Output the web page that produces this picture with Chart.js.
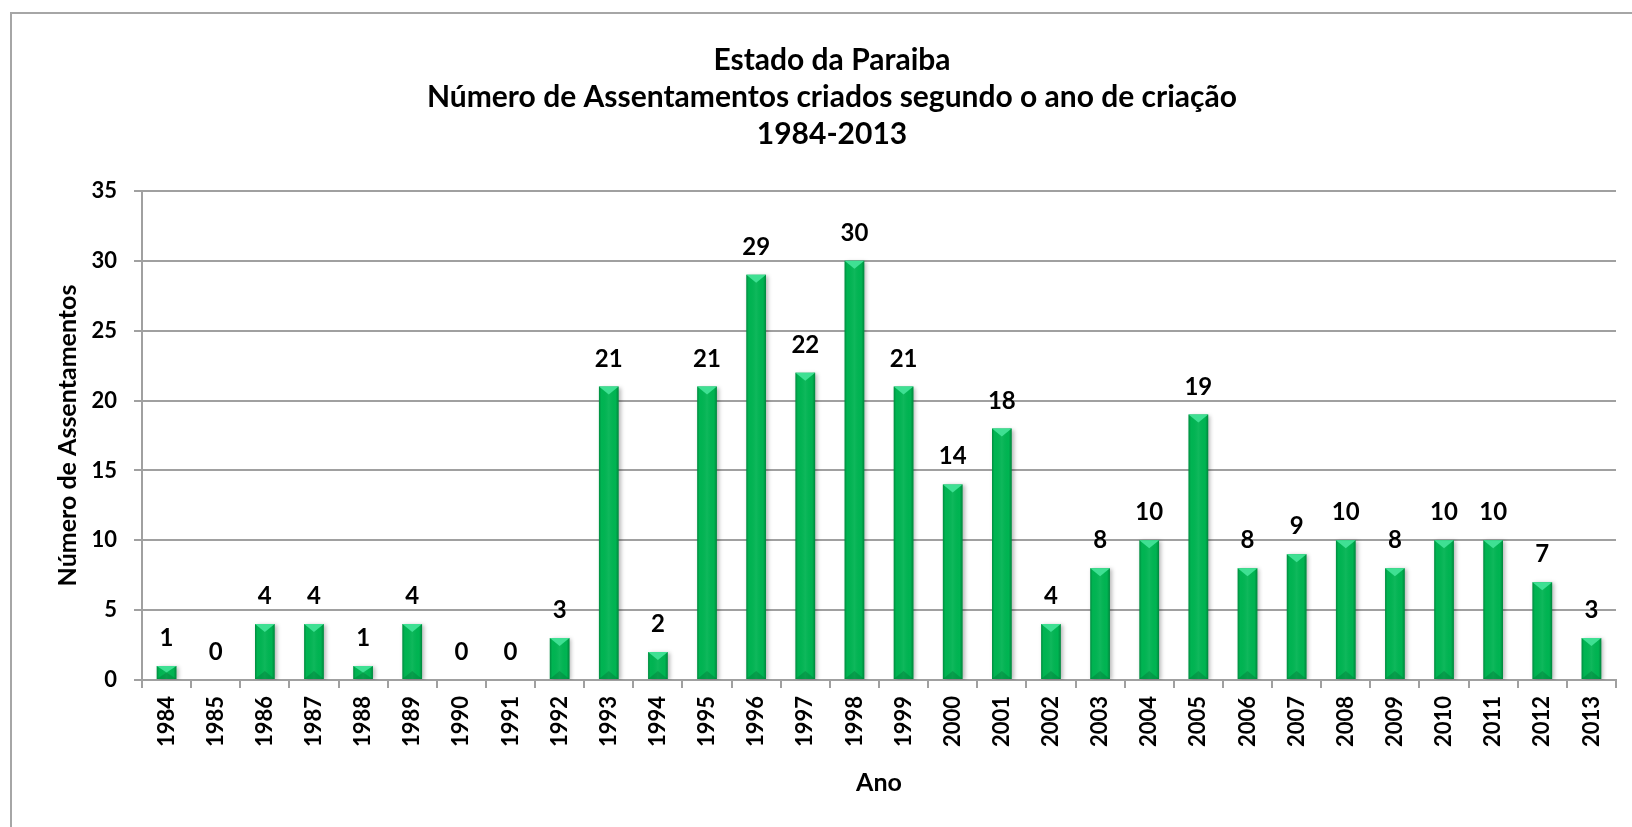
<!DOCTYPE html>
<html>
<head>
<meta charset="utf-8">
<script src="https://cdn.jsdelivr.net/npm/chart.js@4/dist/chart.umd.min.js"></script>
<style>
  html, body { margin: 0; padding: 0; background: #ffffff; }
  #wrap { width: 1632px; height: 827px; position: relative; }
</style>
</head>
<body>
<div id="wrap"><canvas id="c" width="1632" height="827"></canvas></div>
<script>
const years = ['1984','1985','1986','1987','1988','1989','1990','1991','1992','1993','1994','1995','1996','1997','1998','1999','2000','2001','2002','2003','2004','2005','2006','2007','2008','2009','2010','2011','2012','2013'];
const assentamentos = [1,0,4,4,1,4,0,0,3,21,2,21,29,22,30,21,14,18,4,8,10,19,8,9,10,8,10,10,7,3];
const titleLines = ['Estado da Paraiba', 'Número de Assentamentos criados segundo o ano de criação', '1984-2013'];
const yAxisTitle = 'Número de Assentamentos';
const xAxisTitle = 'Ano';

const FONT = 'Lato, "Open Sans", sans-serif';
const GRID = '#a0a0a0';

const frame = {
  id: 'frame',
  beforeDraw(chart) {
    const ctx = chart.ctx;
    ctx.save();
    ctx.fillStyle = '#ffffff';
    ctx.fillRect(0, 0, chart.width, chart.height);
    ctx.strokeStyle = '#a6a6a6';
    ctx.lineWidth = 2;
    ctx.strokeRect(11, 13, chart.width + 40, chart.height + 40);
    ctx.restore();
  }
};

const bevel = {
  id: 'bevel',
  beforeDatasetsDraw(chart) {
    const ctx = chart.ctx;
    ctx.save();
    ctx.shadowColor = 'rgba(0,0,0,0.28)';
    ctx.shadowBlur = 4;
    ctx.shadowOffsetX = 2;
    ctx.shadowOffsetY = 1;
  },
  afterDatasetsDraw(chart) {
    const ctx = chart.ctx;
    ctx.restore();
    const meta = chart.getDatasetMeta(0);
    ctx.save();
    meta.data.forEach((bar, i) => {
      if (!assentamentos[i]) return;
      const w = bar.width, l = bar.x - w / 2, r = bar.x + w / 2;
      const top = bar.y, base = bar.base;
      const g = ctx.createLinearGradient(l, 0, r, 0);
      g.addColorStop(0, 'rgba(0,90,40,0.45)');
      g.addColorStop(0.12, 'rgba(0,90,40,0.0)');
      g.addColorStop(0.5, 'rgba(255,255,255,0.06)');
      g.addColorStop(0.85, 'rgba(0,90,40,0.0)');
      g.addColorStop(1, 'rgba(0,90,40,0.5)');
      ctx.fillStyle = g;
      ctx.fillRect(l, top, w, base - top);
      const d = Math.min(8, (base - top) / 2);
      ctx.beginPath();
      ctx.moveTo(l, top);
      ctx.lineTo(r, top);
      ctx.lineTo(bar.x, top + d);
      ctx.closePath();
      ctx.fillStyle = '#3fe093';
      ctx.fill();
      ctx.beginPath();
      ctx.moveTo(l, base);
      ctx.lineTo(r, base);
      ctx.lineTo(bar.x, base - d);
      ctx.closePath();
      ctx.fillStyle = 'rgba(0,110,50,0.35)';
      ctx.fill();
    });
    ctx.restore();
  }
};

const valueLabels = {
  id: 'valueLabels',
  afterDatasetsDraw(chart) {
    const ctx = chart.ctx;
    const meta = chart.getDatasetMeta(0);
    ctx.save();
    ctx.font = 'bold 24px ' + FONT;
    ctx.fillStyle = '#000000';
    ctx.textAlign = 'center';
    ctx.textBaseline = 'alphabetic';
    meta.data.forEach((bar, i) => {
      ctx.fillText(String(assentamentos[i]), bar.x, bar.y - 20);
    });
    ctx.restore();
  }
};

new Chart(document.getElementById('c'), {
  type: 'bar',
  data: {
    labels: years,
    datasets: [{
      label: yAxisTitle,
      data: assentamentos,
      backgroundColor: '#00b452',
      borderWidth: 0,
      barPercentage: 0.4,
      categoryPercentage: 1.0
    }]
  },
  options: {
    responsive: false,
    animation: false,
    devicePixelRatio: 1,
    layout: { padding: { top: 0, left: 48, right: 16, bottom: 0 } },
    plugins: {
      legend: { display: false },
      tooltip: { enabled: false },
      title: {
        display: true,
        text: titleLines,
        color: '#000000',
        font: { family: FONT, size: 30, weight: 'bold', lineHeight: 37 / 30 },
        padding: { top: 42, bottom: 38 }
      }
    },
    scales: {
      x: {
        type: 'category',
        afterFit(scale) { scale.height = 147; },
        grid: {
          display: true,
          offset: true,
          drawOnChartArea: false,
          drawTicks: true,
          tickLength: 8,
          color: GRID,
          lineWidth: 2
        },
        border: { display: true, color: GRID, width: 2 },
        ticks: {
          minRotation: 90,
          maxRotation: 90,
          autoSkip: false,
          padding: 8,
          color: '#000000',
          font: { family: FONT, size: 22, weight: 'bold' }
        },
        title: {
          display: true,
          text: xAxisTitle,
          color: '#000000',
          font: { family: FONT, size: 25, weight: 'bold' },
          padding: { top: 0, bottom: 29 }
        }
      },
      y: {
        min: 0,
        max: 35,
        afterFit(scale) { scale.width = 94; },
        grid: {
          color: GRID,
          lineWidth: 2,
          drawTicks: true,
          tickLength: 8
        },
        border: { display: true, color: GRID, width: 2 },
        ticks: {
          stepSize: 5,
          padding: 17,
          color: '#000000',
          font: { family: FONT, size: 22, weight: 'bold' }
        },
        title: {
          display: true,
          text: yAxisTitle,
          color: '#000000',
          font: { family: FONT, size: 25, weight: 'bold' },
          padding: { top: 5, bottom: 0 }
        }
      }
    }
  },
  plugins: [frame, bevel, valueLabels]
});
</script>
</body>
</html>
